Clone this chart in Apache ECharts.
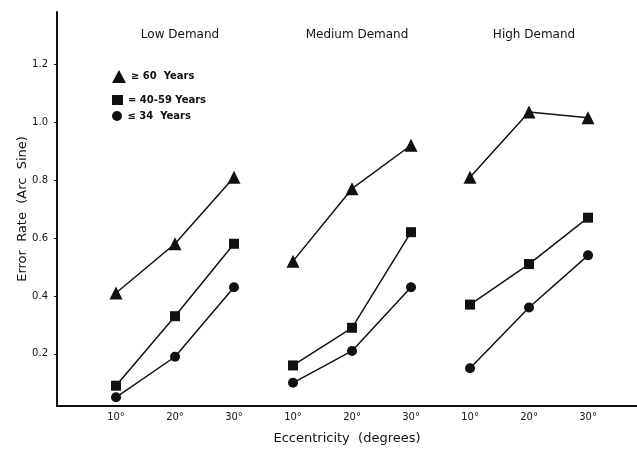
<!DOCTYPE html>
<html>
<head>
<meta charset="utf-8">
<script src="https://cdn.jsdelivr.net/npm/echarts@6/dist/echarts.min.js"></script>
<style>
html,body{margin:0;padding:0;background:#fff;}
#main{width:637px;height:456px;}
</style>
</head>
<body>
<div id="main"></div>
<script>
// eccentricity ticks, three per demand group
var xPos = [1, 2, 3, 4, 5, 6, 7, 8, 9];
var xLabels = ['10°', '20°', '30°', '10°', '20°', '30°', '10°', '20°', '30°'];
var groups = ['Low Demand', 'Medium Demand', 'High Demand'];
var yTicks = [0.2, 0.4, 0.6, 0.8, 1.0, 1.2];

// error rate per age group (low, medium, high demand)
var age60 = [0.41, 0.58, 0.81, 0.52, 0.77, 0.92, 0.81, 1.035, 1.015];
var age40 = [0.09, 0.33, 0.58, 0.16, 0.29, 0.62, 0.37, 0.51, 0.67];
var age34 = [0.05, 0.19, 0.43, 0.10, 0.21, 0.43, 0.15, 0.36, 0.54];

var names = ['≥ 60  Years', '= 40-59 Years', '≤ 34  Years'];
var symbols = ['triangle', 'rect', 'circle'];
var sizes = [13, 10, 10];

// break line between demand groups
function build(vals) {
	var out = [];
	for (var i = 0; i < vals.length; i++) {
		if (i > 0 && i % 3 == 0) out.push([xPos[i] - 0.5, '-']);
		out.push([xPos[i], vals[i]]);
	}
	return out;
}

var chart = echarts.init(document.getElementById('main'));
var fontFam = 'DejaVu Sans';

var series = [age60, age40, age34].map(function (v, i) {
	return {
		name: names[i],
		type: 'line',
		data: build(v),
		symbol: symbols[i],
		symbolSize: sizes[i],
		connectNulls: false,
		lineStyle: {color: '#111', width: 1.5},
		itemStyle: {color: '#111'},
		z: 3 - i
	};
});

var legendTops = [65, 90, 106];
var legends = names.map(function (n, i) {
	return {
		data: [{name: n, icon: symbols[i]}],
		left: 107,
		top: legendTops[i],
		itemWidth: sizes[i] + 1,
		itemHeight: sizes[i],
		textStyle: {fontFamily: fontFam, fontSize: 10, fontWeight: 'bold', color: '#111'},
		selectedMode: false
	};
});

var titles = groups.map(function (g, i) {
	return {
		text: g,
		left: [175, 352, 529][i],
		top: 24,
		textAlign: 'center',
		textStyle: {fontFamily: fontFam, fontSize: 12, fontWeight: 'normal', color: '#111'}
	};
});

chart.setOption({
	animation: false,
	title: titles,
	legend: legends,
	grid: {left: 57, right: 0, top: 12, bottom: 50},
	xAxis: {
		type: 'value',
		min: 0,
		max: 9.83,
		interval: 1,
		name: 'Eccentricity  (degrees)',
		nameLocation: 'middle',
		nameGap: 26,
		nameMoveOverlap: false,
		nameTextStyle: {fontFamily: fontFam, fontSize: 13, color: '#111'},
		axisLine: {lineStyle: {color: '#111', width: 2}},
		axisTick: {show: false},
		splitLine: {show: false},
		axisLabel: {
			fontFamily: fontFam, fontSize: 10, color: '#111', margin: 6,
			showMaxLabel: false,
			formatter: function (v) {
				var k = xPos.indexOf(v);
				return k >= 0 ? xLabels[k] : '';
			}
		}
	},
	yAxis: {
		type: 'value',
		min: 0.02,
		max: 1.38,
		name: 'Error  Rate  (Arc  Sine)',
		nameLocation: 'middle',
		nameGap: 28,
		nameMoveOverlap: false,
		nameTextStyle: {fontFamily: fontFam, fontSize: 13, color: '#111'},
		axisLine: {show: true, lineStyle: {color: '#111', width: 2}},
		axisTick: {show: true, length: 3, customValues: yTicks, lineStyle: {color: '#111'}},
		splitLine: {show: false},
		axisLabel: {
			fontFamily: fontFam, fontSize: 10, color: '#111', margin: 9,
			customValues: yTicks,
			formatter: function (v) { return v.toFixed(1); }
		}
	},
	series: series
});
</script>
</body>
</html>
